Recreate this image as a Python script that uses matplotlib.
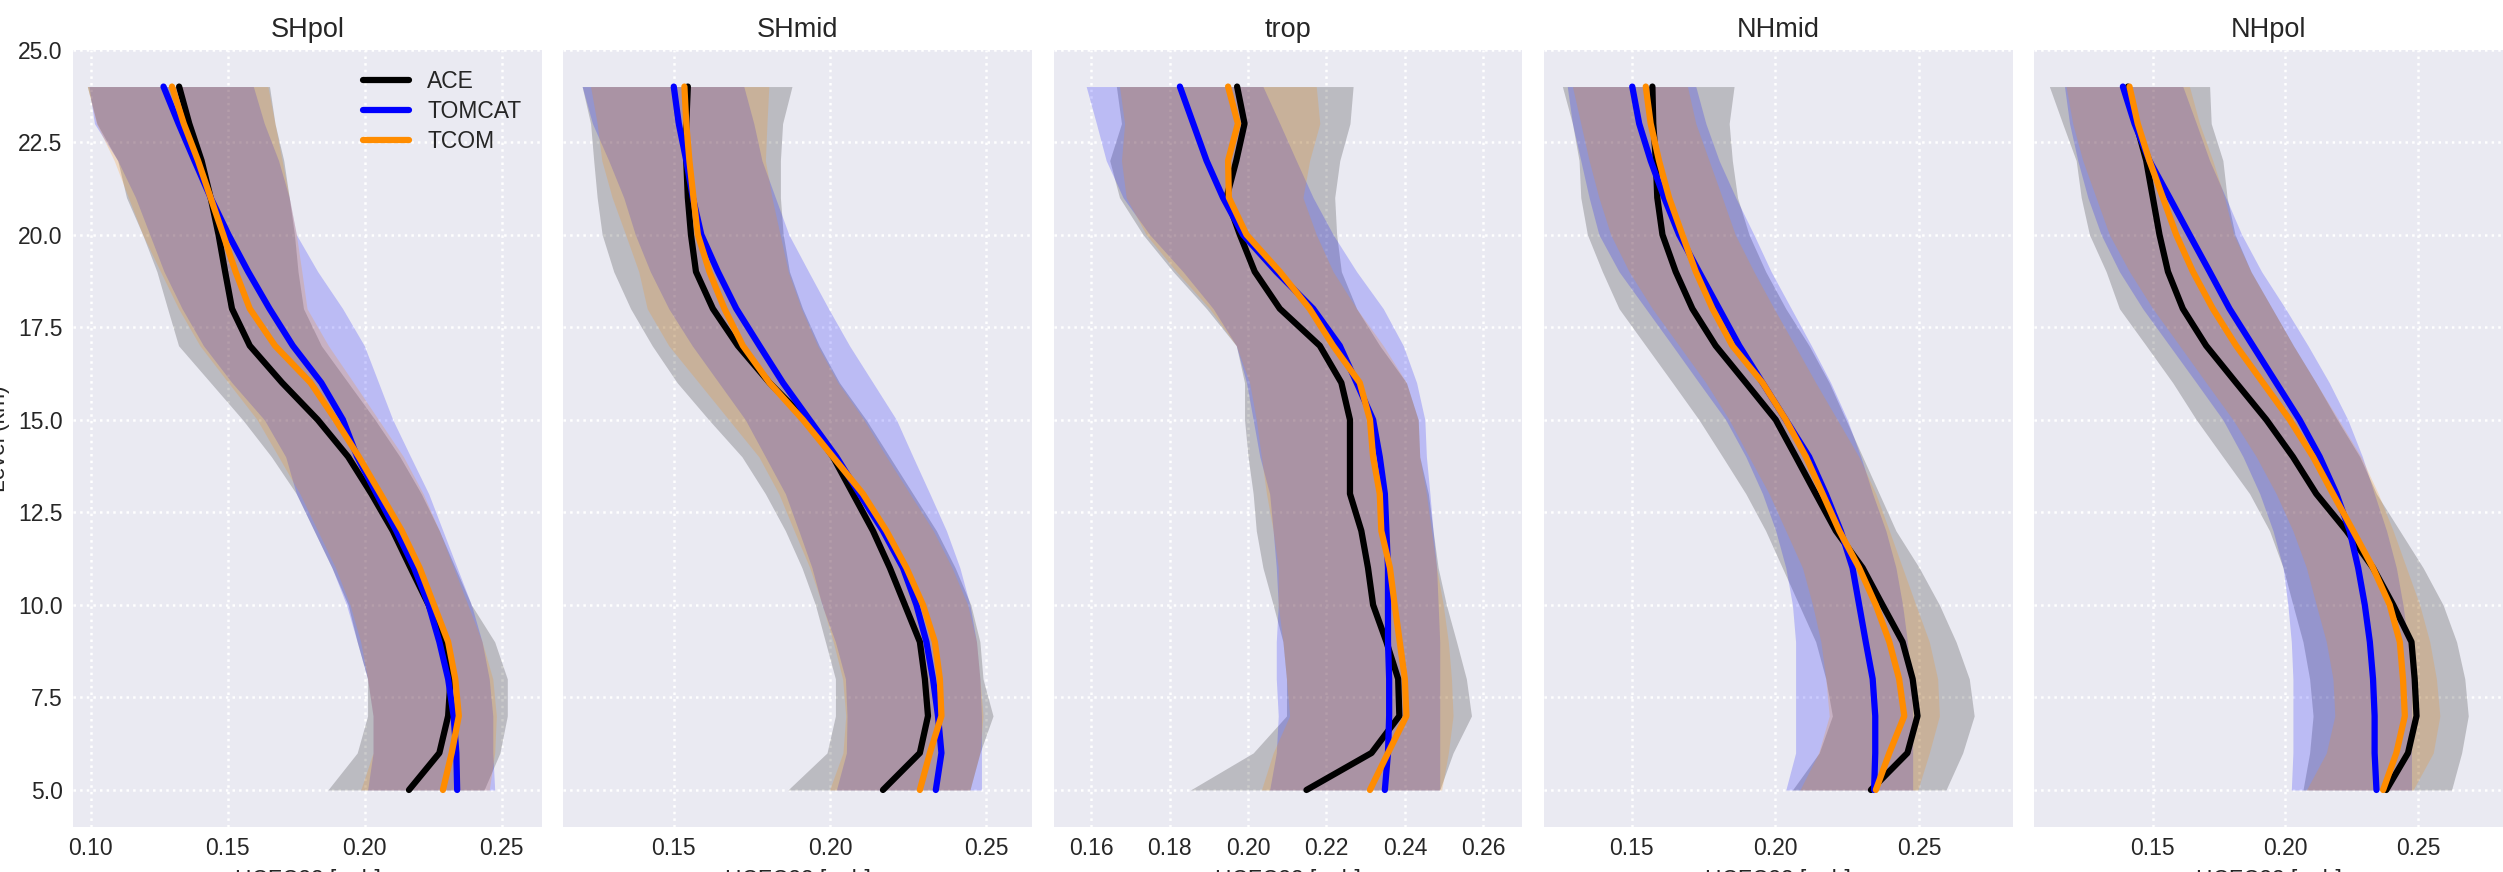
# dependencies
import numpy as np                              # arrays
import matplotlib
matplotlib.use('Agg')
import matplotlib.pyplot as plt                 # plotting
from matplotlib.ticker import MultipleLocator

# ---------------------------------------------------------------- data
levels = [5, 6, 7, 8, 9, 10, 11, 12, 13, 14, 15, 16, 17, 18, 19, 20, 21, 22, 23, 24]
regions = ['SHpol', 'SHmid', 'trop', 'NHmid', 'NHpol']
models = ['ACE', 'TOMCAT', 'TCOM']

# SHpol
shpol_ace = [0.2161, 0.2272, 0.2304, 0.2313, 0.2285, 0.2233, 0.2167, 0.2102, 0.2024, 0.1939,
             0.1828, 0.1698, 0.1580, 0.1515, 0.1490, 0.1466, 0.1437, 0.1404, 0.1359, 0.1322]
shpol_ace_lo = [0.1865, 0.1972, 0.2010, 0.2010, 0.1972, 0.1939, 0.1880, 0.1815, 0.1750, 0.1659,
                0.1554, 0.1437, 0.1320, 0.1280, 0.1241, 0.1189, 0.1130, 0.1098, 0.1022, 0.0987]
shpol_ace_hi = [0.2435, 0.2493, 0.2520, 0.2520, 0.2474, 0.2389, 0.2330, 0.2272, 0.2206, 0.2128,
                0.2037, 0.1939, 0.1841, 0.1776, 0.1756, 0.1743, 0.1724, 0.1704, 0.1672, 0.1652]
shpol_tomcat = [0.2337, 0.2334, 0.2324, 0.2304, 0.2272, 0.2233, 0.2180, 0.2115, 0.2043, 0.1972,
                0.1920, 0.1841, 0.1737, 0.1652, 0.1574, 0.1502, 0.1437, 0.1378, 0.1320, 0.1265]
shpol_tomcat_lo = [0.2010, 0.2030, 0.2030, 0.2010, 0.1972, 0.1933, 0.1880, 0.1815, 0.1750, 0.1711,
                   0.1633, 0.1515, 0.1411, 0.1333, 0.1267, 0.1215, 0.1163, 0.1098, 0.1013, 0.0993]
shpol_tomcat_hi = [0.2474, 0.2467, 0.2467, 0.2454, 0.2428, 0.2389, 0.2337, 0.2285, 0.2233, 0.2167,
                   0.2102, 0.2050, 0.1998, 0.1919, 0.1828, 0.1750, 0.1724, 0.1685, 0.1633, 0.1593]
shpol_tcom = [0.2285, 0.2317, 0.2343, 0.2330, 0.2304, 0.2252, 0.2200, 0.2135, 0.2057, 0.1978,
              0.1893, 0.1802, 0.1672, 0.1580, 0.1528, 0.1483, 0.1437, 0.1391, 0.1339, 0.1296]
shpol_tcom_lo = [0.1985, 0.2030, 0.2030, 0.2010, 0.1985, 0.1946, 0.1893, 0.1828, 0.1763, 0.1685,
                 0.1607, 0.1502, 0.1398, 0.1320, 0.1254, 0.1189, 0.1137, 0.1085, 0.1020, 0.0987]
shpol_tcom_hi = [0.2454, 0.2474, 0.2480, 0.2467, 0.2428, 0.2376, 0.2324, 0.2272, 0.2213, 0.2141,
                 0.2050, 0.1959, 0.1867, 0.1789, 0.1770, 0.1750, 0.1724, 0.1698, 0.1672, 0.1646]

# SHmid
shmid_ace = [0.2169, 0.2287, 0.2313, 0.2303, 0.2287, 0.2239, 0.2191, 0.2137, 0.2073, 0.2009,
             0.1924, 0.1806, 0.1705, 0.1625, 0.1571, 0.1555, 0.1545, 0.1540, 0.1540, 0.1545]
shmid_ace_lo = [0.1865, 0.1990, 0.2017, 0.2017, 0.1985, 0.1953, 0.1910, 0.1857, 0.1793, 0.1718,
                0.1612, 0.1511, 0.1431, 0.1362, 0.1308, 0.1271, 0.1255, 0.1244, 0.1234, 0.1207]
shmid_ace_hi = [0.2447, 0.2479, 0.2521, 0.2489, 0.2479, 0.2450, 0.2400, 0.2340, 0.2265, 0.2190,
                0.2115, 0.2030, 0.1965, 0.1912, 0.1870, 0.1850, 0.1841, 0.1841, 0.1848, 0.1878]
shmid_tomcat = [0.2338, 0.2356, 0.2345, 0.2329, 0.2308, 0.2276, 0.2233, 0.2169, 0.2094, 0.2020,
                0.1934, 0.1849, 0.1774, 0.1700, 0.1641, 0.1588, 0.1561, 0.1540, 0.1516, 0.1500]
shmid_tomcat_lo = [0.2020, 0.2052, 0.2054, 0.2049, 0.2017, 0.1974, 0.1942, 0.1900, 0.1857, 0.1793,
                   0.1729, 0.1644, 0.1559, 0.1484, 0.1425, 0.1377, 0.1340, 0.1292, 0.1240, 0.1207]
shmid_tomcat_hi = [0.2484, 0.2484, 0.2484, 0.2479, 0.2468, 0.2447, 0.2415, 0.2372, 0.2319, 0.2265,
                   0.2212, 0.2137, 0.2062, 0.1995, 0.1931, 0.1868, 0.1825, 0.1782, 0.1756, 0.1724]
shmid_tcom = [0.2287, 0.2319, 0.2356, 0.2351, 0.2335, 0.2297, 0.2244, 0.2180, 0.2105, 0.2009,
              0.1913, 0.1806, 0.1721, 0.1662, 0.1614, 0.1577, 0.1563, 0.1550, 0.1540, 0.1534]
shmid_tcom_lo = [0.1998, 0.2041, 0.2050, 0.2040, 0.2010, 0.1975, 0.1935, 0.1885, 0.1836, 0.1772,
                 0.1676, 0.1580, 0.1484, 0.1415, 0.1388, 0.1346, 0.1303, 0.1270, 0.1255, 0.1234]
shmid_tcom_hi = [0.2447, 0.2479, 0.2489, 0.2479, 0.2468, 0.2440, 0.2390, 0.2330, 0.2255, 0.2180,
                 0.2108, 0.2025, 0.1960, 0.1908, 0.1866, 0.1840, 0.1814, 0.1793, 0.1798, 0.1804]

# trop
trop_ace = [0.2149, 0.2315, 0.2386, 0.2383, 0.2353, 0.2319, 0.2306, 0.2289, 0.2260, 0.2260,
            0.2260, 0.2238, 0.2183, 0.2081, 0.2017, 0.1979, 0.1945, 0.1970, 0.1991, 0.1972]
trop_ace_lo = [0.1853, 0.2013, 0.2098, 0.2098, 0.2089, 0.2064, 0.2038, 0.2021, 0.2013, 0.2000,
               0.1991, 0.1991, 0.1970, 0.1894, 0.1809, 0.1732, 0.1672, 0.1647, 0.1677, 0.1664]
trop_ace_hi = [0.2489, 0.2523, 0.2570, 0.2557, 0.2532, 0.2506, 0.2485, 0.2472, 0.2460, 0.2438,
               0.2434, 0.2404, 0.2336, 0.2277, 0.2238, 0.2226, 0.2221, 0.2234, 0.2260, 0.2268]
trop_tomcat = [0.2349, 0.2357, 0.2360, 0.2360, 0.2357, 0.2357, 0.2357, 0.2353, 0.2349, 0.2336,
               0.2319, 0.2277, 0.2234, 0.2166, 0.2072, 0.1987, 0.1936, 0.1894, 0.1860, 0.1826]
trop_tomcat_lo = [0.2055, 0.2072, 0.2077, 0.2072, 0.2072, 0.2077, 0.2072, 0.2064, 0.2055, 0.2030,
                  0.2013, 0.1996, 0.1970, 0.1911, 0.1834, 0.1749, 0.1681, 0.1638, 0.1613, 0.1587]
trop_tomcat_hi = [0.2489, 0.2489, 0.2489, 0.2489, 0.2489, 0.2485, 0.2481, 0.2472, 0.2464, 0.2455,
                  0.2451, 0.2430, 0.2396, 0.2345, 0.2277, 0.2217, 0.2166, 0.2123, 0.2081, 0.2038]
trop_tcom = [0.2311, 0.2357, 0.2404, 0.2400, 0.2387, 0.2374, 0.2362, 0.2340, 0.2336, 0.2319,
             0.2311, 0.2285, 0.2217, 0.2157, 0.2081, 0.1996, 0.1951, 0.1949, 0.1974, 0.1949]
trop_tcom_lo = [0.2034, 0.2064, 0.2106, 0.2098, 0.2089, 0.2077, 0.2077, 0.2064, 0.2047, 0.2034,
                0.2021, 0.2004, 0.1970, 0.1902, 0.1817, 0.1740, 0.1689, 0.1677, 0.1685, 0.1672]
trop_tcom_hi = [0.2494, 0.2511, 0.2523, 0.2519, 0.2511, 0.2498, 0.2481, 0.2468, 0.2455, 0.2438,
                0.2434, 0.2404, 0.2345, 0.2277, 0.2217, 0.2174, 0.2140, 0.2157, 0.2183, 0.2174]

# NHmid
nhmid_ace = [0.2332, 0.2459, 0.2494, 0.2477, 0.2442, 0.2372, 0.2303, 0.2210, 0.2140, 0.2071,
             0.2001, 0.1897, 0.1792, 0.1711, 0.1653, 0.1607, 0.1589, 0.1584, 0.1575, 0.1572]
nhmid_ace_lo = [0.2059, 0.2152, 0.2198, 0.2175, 0.2140, 0.2082, 0.2024, 0.1966, 0.1897, 0.1816,
                0.1734, 0.1642, 0.1549, 0.1456, 0.1398, 0.1346, 0.1323, 0.1317, 0.1294, 0.1259]
nhmid_ace_hi = [0.2593, 0.2651, 0.2691, 0.2674, 0.2628, 0.2570, 0.2500, 0.2419, 0.2361, 0.2303,
                0.2245, 0.2187, 0.2117, 0.2036, 0.1966, 0.1908, 0.1868, 0.1850, 0.1839, 0.1856]
nhmid_tomcat = [0.2343, 0.2347, 0.2347, 0.2338, 0.2314, 0.2291, 0.2268, 0.2227, 0.2175, 0.2117,
                0.2036, 0.1955, 0.1874, 0.1804, 0.1734, 0.1665, 0.1613, 0.1566, 0.1526, 0.1502]
nhmid_tomcat_lo = [0.2036, 0.2070, 0.2070, 0.2070, 0.2070, 0.2059, 0.2036, 0.2001, 0.1955, 0.1897,
                   0.1827, 0.1734, 0.1642, 0.1549, 0.1456, 0.1386, 0.1352, 0.1323, 0.1294, 0.1276]
nhmid_tomcat_hi = [0.2477, 0.2477, 0.2477, 0.2471, 0.2459, 0.2442, 0.2419, 0.2384, 0.2338, 0.2297,
                   0.2250, 0.2192, 0.2125, 0.2055, 0.1985, 0.1925, 0.1862, 0.1804, 0.1758, 0.1723]
nhmid_tcom = [0.2349, 0.2396, 0.2448, 0.2430, 0.2396, 0.2349, 0.2291, 0.2222, 0.2164, 0.2106,
              0.2036, 0.1955, 0.1850, 0.1781, 0.1723, 0.1676, 0.1630, 0.1595, 0.1566, 0.1549]
nhmid_tcom_lo = [0.2085, 0.2150, 0.2187, 0.2175, 0.2158, 0.2129, 0.2094, 0.2036, 0.1978, 0.1908,
                 0.1839, 0.1758, 0.1665, 0.1572, 0.1491, 0.1427, 0.1386, 0.1352, 0.1323, 0.1294]
nhmid_tcom_hi = [0.2495, 0.2535, 0.2570, 0.2564, 0.2535, 0.2488, 0.2442, 0.2396, 0.2349, 0.2290,
                 0.2215, 0.2140, 0.2068, 0.1995, 0.1925, 0.1860, 0.1815, 0.1769, 0.1723, 0.1694]

# NHpol
nhpol_ace = [0.2380, 0.2462, 0.2494, 0.2487, 0.2475, 0.2406, 0.2330, 0.2230, 0.2116, 0.2028,
             0.1928, 0.1814, 0.1701, 0.1613, 0.1557, 0.1525, 0.1500, 0.1475, 0.1437, 0.1406]
nhpol_ace_lo = [0.2066, 0.2091, 0.2104, 0.2091, 0.2066, 0.2028, 0.1991, 0.1940, 0.1865, 0.1764,
                0.1664, 0.1575, 0.1475, 0.1374, 0.1324, 0.1261, 0.1230, 0.1211, 0.1160, 0.1110]
nhpol_ace_hi = [0.2626, 0.2664, 0.2689, 0.2676, 0.2645, 0.2594, 0.2519, 0.2431, 0.2343, 0.2280,
                0.2195, 0.2115, 0.2030, 0.1950, 0.1870, 0.1810, 0.1780, 0.1764, 0.1720, 0.1714]
nhpol_tomcat = [0.2343, 0.2336, 0.2336, 0.2330, 0.2318, 0.2299, 0.2274, 0.2242, 0.2192, 0.2129,
                0.2053, 0.1965, 0.1877, 0.1789, 0.1714, 0.1638, 0.1563, 0.1487, 0.1431, 0.1387]
nhpol_tomcat_lo = [0.2022, 0.2028, 0.2028, 0.2028, 0.2022, 0.2009, 0.1991, 0.1953, 0.1903, 0.1840,
                   0.1764, 0.1664, 0.1563, 0.1462, 0.1374, 0.1305, 0.1255, 0.1217, 0.1186, 0.1167]
nhpol_tomcat_hi = [0.2475, 0.2475, 0.2475, 0.2475, 0.2462, 0.2443, 0.2418, 0.2381, 0.2335, 0.2290,
                   0.2235, 0.2165, 0.2085, 0.2000, 0.1910, 0.1835, 0.1775, 0.1714, 0.1664, 0.1613]
nhpol_tcom = [0.2368, 0.2418, 0.2450, 0.2443, 0.2431, 0.2393, 0.2330, 0.2255, 0.2179, 0.2104,
              0.2016, 0.1915, 0.1814, 0.1726, 0.1651, 0.1588, 0.1538, 0.1487, 0.1443, 0.1412]
nhpol_tcom_lo = [0.2079, 0.2154, 0.2186, 0.2179, 0.2154, 0.2116, 0.2079, 0.2028, 0.1965, 0.1890,
                 0.1802, 0.1701, 0.1601, 0.1500, 0.1412, 0.1336, 0.1286, 0.1236, 0.1198, 0.1173]
nhpol_tcom_hi = [0.2481, 0.2557, 0.2582, 0.2569, 0.2544, 0.2506, 0.2456, 0.2406, 0.2350, 0.2285,
                 0.2200, 0.2115, 0.2030, 0.1950, 0.1870, 0.1805, 0.1770, 0.1726, 0.1676, 0.1638]

# x-axis range and tick spacing per panel
xlims = [(0.0935, 0.2646), (0.1147, 0.2646), (0.1504, 0.2700), (0.1195, 0.2825), (0.1053, 0.2820)]
xsteps = [0.05, 0.05, 0.02, 0.05, 0.05]

panels = {
    'SHpol': [(shpol_ace, shpol_ace_lo, shpol_ace_hi), (shpol_tomcat, shpol_tomcat_lo, shpol_tomcat_hi),
              (shpol_tcom, shpol_tcom_lo, shpol_tcom_hi)],
    'SHmid': [(shmid_ace, shmid_ace_lo, shmid_ace_hi), (shmid_tomcat, shmid_tomcat_lo, shmid_tomcat_hi),
              (shmid_tcom, shmid_tcom_lo, shmid_tcom_hi)],
    'trop': [(trop_ace, trop_ace_lo, trop_ace_hi), (trop_tomcat, trop_tomcat_lo, trop_tomcat_hi),
             (trop_tcom, trop_tcom_lo, trop_tcom_hi)],
    'NHmid': [(nhmid_ace, nhmid_ace_lo, nhmid_ace_hi), (nhmid_tomcat, nhmid_tomcat_lo, nhmid_tomcat_hi),
              (nhmid_tcom, nhmid_tcom_lo, nhmid_tcom_hi)],
    'NHpol': [(nhpol_ace, nhpol_ace_lo, nhpol_ace_hi), (nhpol_tomcat, nhpol_tomcat_lo, nhpol_tomcat_hi),
              (nhpol_tcom, nhpol_tcom_lo, nhpol_tcom_hi)],
}

# ---------------------------------------------------------------- style
colors = ['black', 'blue', 'darkorange']
plt.rcParams.update({
    'font.family': ['Liberation Sans', 'DejaVu Sans'],
    'axes.facecolor': '#EAEAF2',
    'axes.edgecolor': 'white',
    'text.color': '.15',
    'xtick.color': '.15',
    'ytick.color': '.15',
    'xtick.major.size': 0,
    'ytick.major.size': 0,
    'xtick.labelsize': 11,
    'ytick.labelsize': 11,
    'axes.titlesize': 13,
    'axes.labelsize': 11,
    'axes.labelcolor': '.15',
    'lines.solid_capstyle': 'round',
})

# ---------------------------------------------------------------- plot
dpi = 150
fig, axes = plt.subplots(1, 5, sharey=True, figsize=(2503 / dpi, 872 / dpi), dpi=dpi)
fig.subplots_adjust(left=0.0292, right=1.0, bottom=0.0516, top=0.9432, wspace=0.046)

lev = np.array(levels)
for i, (ax, region) in enumerate(zip(axes, regions)):
    series = panels[region]
    # shaded spread first, lines on top
    for (mean, lo, hi), c in zip(series, colors):
        ax.fill_betweenx(lev, lo, hi, color=c, alpha=0.2, linewidth=0)
    for (mean, lo, hi), c, name in zip(series, colors, models):
        ax.plot(mean, lev, color=c, linewidth=3, label=name)

    ax.set_title(region)
    ax.set_xlim(*xlims[i])
    ax.xaxis.set_major_locator(MultipleLocator(xsteps[i]))
    ax.xaxis.set_major_formatter(plt.FormatStrFormatter('%.2f'))
    ax.set_xlabel('HCFC22 [ppb]')
    ax.grid(True, color='white', linestyle=':', linewidth=1.2)
    ax.set_axisbelow(True)
    ax.tick_params(axis='both', pad=5)
    for spine in ax.spines.values():
        spine.set_visible(False)

axes[0].set_ylim(4.0, 25.0)
axes[0].yaxis.set_major_locator(MultipleLocator(2.5))
axes[0].set_ylabel('Level (km)')
axes[0].legend(loc='upper right', frameon=False, fontsize=11, labelspacing=0.3)

fig.savefig('out.png', dpi=dpi)
